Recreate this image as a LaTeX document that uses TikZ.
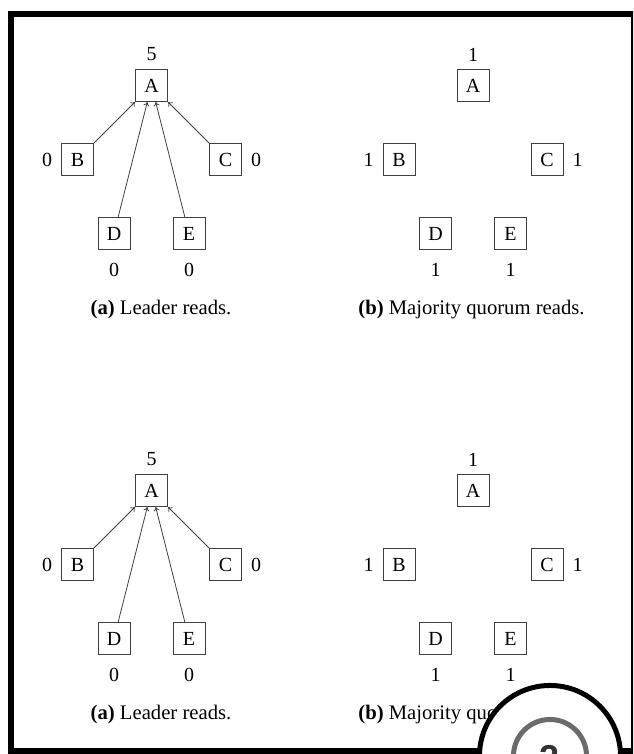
\documentclass[tikz,border=0pt]{standalone}
\usepackage{fontspec}
\setmainfont{Liberation Serif}
\newfontfamily\badgefont{Liberation Sans}
\usetikzlibrary{arrows.meta}
\tikzset{
  qbox/.style={draw=black!75, line width=0.75pt, minimum size=24pt, inner sep=0pt, font=\fontsize{15}{18}\selectfont},
  qnum/.style={inner sep=0pt, font=\fontsize{15}{18}\selectfont},
  qcap/.style={inner sep=0pt, anchor=base, font=\fontsize{15.5}{18}\selectfont},
  qarrow/.style={-{To[length=3pt,width=4.5pt]}, draw=black!75, line width=0.6pt},
  outerframe/.style={line width=4.5pt, line join=miter},
  badgeouter/.style={line width=3.75pt, draw=black, fill=white},
  badgeinner/.style={line width=3.75pt, draw=black!58},
  badgetext/.style={inner sep=0pt, anchor=north, text=black!80, font=\fontsize{27}{30}\badgefont\bfseries\selectfont}
}
% #1 prefix, #2 dx, #3 dy, #4 top number, #5 other number, #6 caption x, #7 caption
\newcommand\placequorum[7]{%
  \begin{scope}[shift={(#2,#3)}]
    \node[qbox] (#1A) at (151.5,85.5) {A};
    \node[qbox] (#1B) at (77.5,159.5) {B};
    \node[qbox] (#1C) at (225.5,159.5) {C};
    \node[qbox] (#1D) at (114,233.5) {D};
    \node[qbox] (#1E) at (189,233.5) {E};
    \node[qnum] (#1nA) at (151.5,54.5) {#4};
    \node[qnum] (#1nB) at (47,159.5) {#5};
    \node[qnum] (#1nC) at (256,159.5) {#5};
    \node[qnum] (#1nD) at (114,269.5) {#5};
    \node[qnum] (#1nE) at (189,269.5) {#5};
    \node[qcap] (#1cap) at (#6,314.5) {#7};
  \end{scope}}
\begin{document}
\begin{tikzpicture}[x=0.75pt, y=-0.75pt]
  \useasboundingbox (0,0) rectangle (633,754);
  \clip (0,0) rectangle (633,754);
  \draw[outerframe] (11,14) rectangle (633.5,751);
  \placequorum{p}{0}{0}{5}{0}{161}{\textbf{(a)} Leader reads.}
  \placequorum{q}{321.5}{0}{1}{1}{150}{\textbf{(b)} Majority quorum reads.}
  \placequorum{r}{0}{405}{5}{0}{161}{\textbf{(a)} Leader reads.}
  \placequorum{s}{321.5}{405}{1}{1}{150}{\textbf{(b)} Majority quorum reads.}
  \foreach \g in {p,r}{
    \draw[qarrow] (\g B) -- (\g A);
    \draw[qarrow] (\g C) -- (\g A);
    \draw[qarrow] (\g D) -- (\g A);
    \draw[qarrow] (\g E) -- (\g A);
  }
  \draw[badgeouter] (550,756) circle[radius=52.9pt];
  \draw[badgeinner] (550,756) circle[radius=27.4pt];
  \node[badgetext] (badge) at (550,745) {2};
\end{tikzpicture}
\end{document}
